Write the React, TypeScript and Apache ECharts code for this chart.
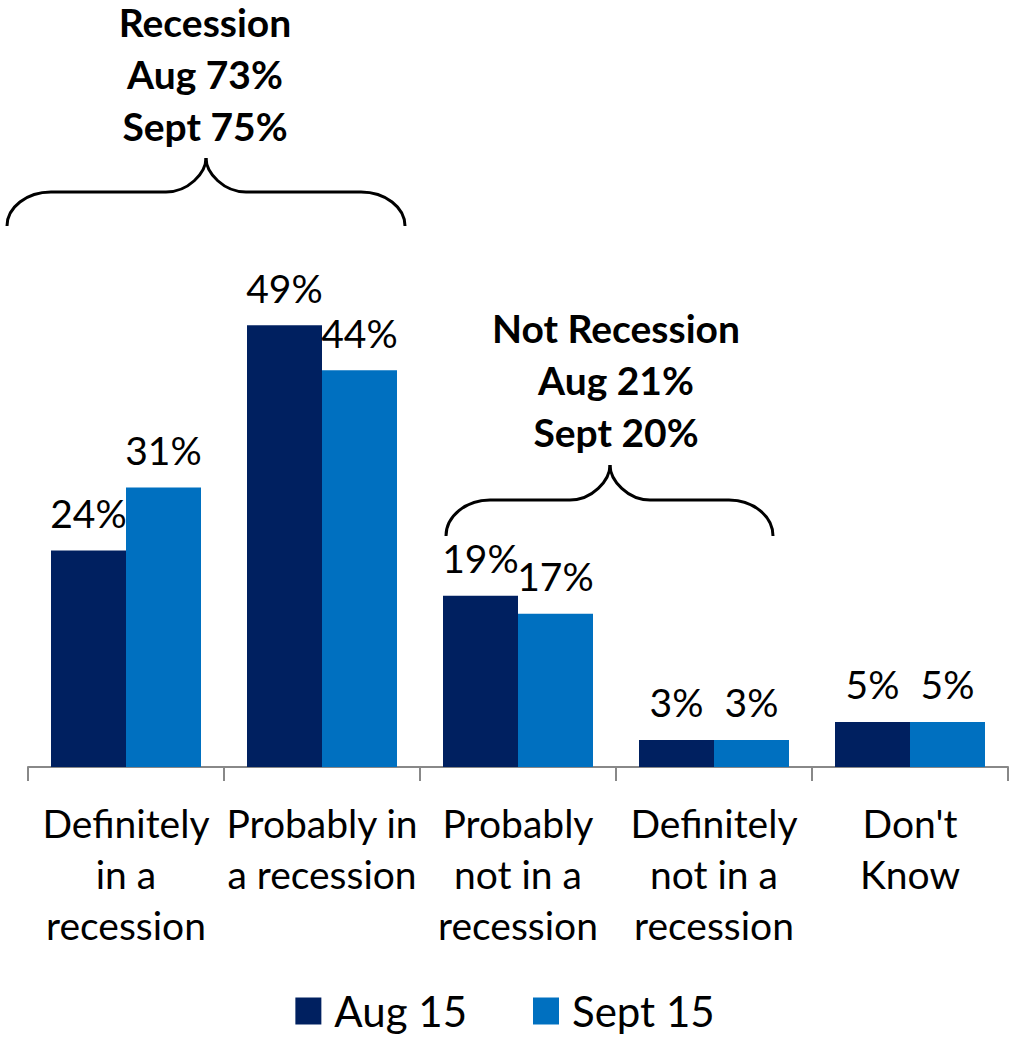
import React, { useEffect, useRef } from "react";
import * as echarts from "echarts";

const categories = [
  "Definitely\nin a\nrecession",
  "Probably in\na recession",
  "Probably\nnot in a\nrecession",
  "Definitely\nnot in a\nrecession",
  "Don't\nKnow",
];
const seriesNames = ["Aug 15", "Sept 15"];
const aug15 = [24, 49, 19, 3, 5];
const sept15 = [31, 44, 17, 3, 5];
const recessionNote = ["Recession", "Aug 73%", "Sept 75%"];
const notRecessionNote = ["Not Recession", "Aug 21%", "Sept 20%"];

const FONT = "Lato, 'Open Sans', sans-serif";
const NAVY = "#002060";
const BLUE = "#0070C0";

function brace(xL: number, xR: number, xm: number, yP: number, yH: number, yE: number) {
  const r = 44;
  const r2 = 40;
  const k = 0.55;
  const h1 = yE - yH;
  const h2 = yH - yP;
  const style = { stroke: "#000", lineWidth: 3, fill: "none" };
  return [
    { type: "bezierCurve", shape: { x1: xL, y1: yE, cpx1: xL, cpy1: yE - k * h1, cpx2: xL + r - k * r, cpy2: yH, x2: xL + r, y2: yH }, style },
    { type: "line", shape: { x1: xL + r, y1: yH, x2: xm - r2, y2: yH }, style },
    { type: "bezierCurve", shape: { x1: xm - r2, y1: yH, cpx1: xm - r2 + k * r2, cpy1: yH, cpx2: xm, cpy2: yH - k * h2, x2: xm, y2: yP }, style },
    { type: "bezierCurve", shape: { x1: xm + r2, y1: yH, cpx1: xm + r2 - k * r2, cpy1: yH, cpx2: xm, cpy2: yH - k * h2, x2: xm, y2: yP }, style },
    { type: "line", shape: { x1: xR - r, y1: yH, x2: xm + r2, y2: yH }, style },
    { type: "bezierCurve", shape: { x1: xR, y1: yE, cpx1: xR, cpy1: yE - k * h1, cpx2: xR - r + k * r, cpy2: yH, x2: xR - r, y2: yH }, style },
  ];
}

export default function App() {
  const ref = useRef<HTMLDivElement>(null);
  useEffect(() => {
    const chart = echarts.init(ref.current!, null, { renderer: "svg" });
    const labelStyle = {
      show: true,
      position: "top",
      distance: 18,
      formatter: "{c}%",
      fontFamily: FONT,
      fontSize: 39,
      color: "#000",
    };
    const noteStyle = {
      fontFamily: FONT,
      fontWeight: "bold",
      fontSize: 39,
      lineHeight: 52,
      textAlign: "center",
      textVerticalAlign: "top",
      fill: "#000",
    };
    chart.setOption({
      animation: false,
      backgroundColor: "#fff",
      grid: { left: 28, right: 2, top: 226, bottom: 270, containLabel: false },
      legend: {
        data: seriesNames,
        top: 990,
        left: "center",
        padding: 0,
        icon: "rect",
        itemWidth: 26,
        itemHeight: 27,
        itemGap: 66,
        textStyle: { fontFamily: FONT, fontSize: 42, lineHeight: 28, color: "#000", padding: [0, 0, 0, 8] },
      },
      xAxis: {
        type: "category",
        data: categories,
        axisLine: { lineStyle: { color: "#888", width: 2 } },
        axisTick: { show: true, length: 14, lineStyle: { color: "#888", width: 2 } },
        axisLabel: {
          interval: 0,
          margin: 30,
          fontFamily: FONT,
          fontSize: 39,
          lineHeight: 51,
          color: "#000",
        },
      },
      yAxis: { type: "value", min: 0, max: 60, show: false, splitLine: { show: false } },
      series: [
        { name: seriesNames[0], type: "bar", data: aug15, barWidth: 75, barGap: "0%", itemStyle: { color: NAVY }, label: labelStyle },
        { name: seriesNames[1], type: "bar", data: sept15, barWidth: 75, barGap: "0%", itemStyle: { color: BLUE }, label: labelStyle },
      ],
      graphic: [
        ...brace(7, 405, 206, 158, 192, 226),
        ...brace(446, 773, 610, 465, 500, 536),
        { type: "text", x: 205, y: -4, style: { ...noteStyle, text: recessionNote.join("\n") } },
        { type: "text", x: 616, y: 302, style: { ...noteStyle, text: notRecessionNote.join("\n") } },
      ],
    });
    return () => chart.dispose();
  }, []);
  return <div ref={ref} style={{ position: "fixed", left: 0, top: 0, width: 1010, height: 1037 }} />;
}
